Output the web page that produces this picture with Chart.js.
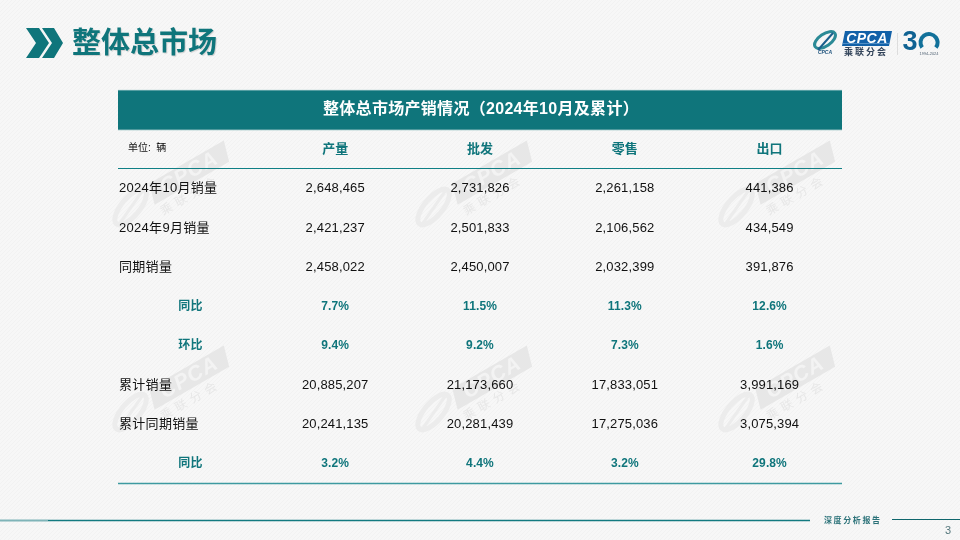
<!DOCTYPE html>
<html lang="zh">
<head>
<meta charset="utf-8">
<title>整体总市场</title>
<script src="https://cdn.jsdelivr.net/npm/chart.js@4/dist/chart.umd.min.js"></script>
<style>
html, body { margin: 0; padding: 0; background: #f6f6f6; overflow: hidden; }
canvas { display: block; }
</style>
</head>
<body>
<canvas id="myChart" width="960" height="540"></canvas>
<script>
const pageTitle = "整体总市场";
const tableTitle = "整体总市场产销情况（2024年10月及累计）";
const unitLabel = "单位:  辆";
const footerText = "深度分析报告";
const pageNumber = "3";

const columns = ["项目", "产量", "批发", "零售", "出口"];
const rowLabels = ["2024年10月销量", "2024年9月销量", "同期销量", "同比", "环比", "累计销量", "累计同期销量", "同比"];
const production = ["2,648,465", "2,421,237", "2,458,022", "7.7%", "9.4%", "20,885,207", "20,241,135", "3.2%"];
const wholesale = ["2,731,826", "2,501,833", "2,450,007", "11.5%", "9.2%", "21,173,660", "20,281,439", "4.4%"];
const retail = ["2,261,158", "2,106,562", "2,032,399", "11.3%", "7.3%", "17,833,051", "17,275,036", "3.2%"];
const exports_ = ["441,386", "434,549", "391,876", "12.6%", "1.6%", "3,991,169", "3,075,394", "29.8%"];

const TEAL = "#0f757b";
const CJK = '"Liberation Sans", "Noto Sans CJK SC", sans-serif';
const rowKeys = ["title", "head"].concat(rowLabels.map((r, i) => "r" + i));
const isRate = i => rowLabels[i] === "同比" || rowLabels[i] === "环比";

// one invisible point per table cell, the text is placed on these points
const cellColumns = [rowLabels, production, wholesale, retail, exports_];
const datasets = cellColumns.map((cells, c) => ({
    label: columns[c],
    showLine: false,
    pointRadius: 0,
    data: cells.map((text, r) => ({ x: columns[c], y: rowKeys[r + 2], text: text, row: r }))
}));
datasets.push({
    label: "header",
    showLine: false,
    pointRadius: 0,
    data: columns.slice(1).map(name => ({ x: name, y: "head", text: name, head: true }))
});

function txt(ctx, s, x, y, font, color, align, spacing) {
    ctx.font = font;
    ctx.fillStyle = color;
    ctx.textAlign = align || "center";
    ctx.textBaseline = "middle";
    ctx.letterSpacing = (spacing || 0) + "px";
    ctx.fillText(s, x, y);
    ctx.letterSpacing = "0px";
}

function poly(ctx, pts, color) {
    ctx.fillStyle = color;
    ctx.beginPath();
    pts.forEach((p, i) => i ? ctx.lineTo(p[0], p[1]) : ctx.moveTo(p[0], p[1]));
    ctx.closePath();
    ctx.fill();
}

function hline(ctx, x0, x1, y, w, color) {
    ctx.strokeStyle = color;
    ctx.lineWidth = w;
    ctx.beginPath();
    ctx.moveTo(x0, y);
    ctx.lineTo(x1, y);
    ctx.stroke();
}

function background(ctx) {
    const tile = document.createElement("canvas");
    tile.width = tile.height = 4;
    const t = tile.getContext("2d");
    t.fillStyle = "#f7f7f7";
    t.fillRect(0, 0, 4, 4);
    t.strokeStyle = "#f2f2f2";
    t.beginPath();
    t.moveTo(-1, 5);
    t.lineTo(5, -1);
    t.stroke();
    ctx.fillStyle = ctx.createPattern(tile, "repeat");
    ctx.fillRect(0, 0, 960, 540);
}

function watermark(ctx, x, y) {
    const gray = "#e7e7e7";
    ctx.save();
    ctx.translate(x, y);
    ctx.rotate(-30 * Math.PI / 180);
    poly(ctx, [[-36, -11], [50, -11], [44, 10], [-42, 10]], gray);
    txt(ctx, "CPCA", 4, 0, 'italic bold 21px "Liberation Sans"', "#f3f3f3", "center", 1);
    txt(ctx, "乘联分会", -6, 19, '12px "Noto Sans CJK SC"', gray, "center", 5);
    ctx.strokeStyle = "#ececec";
    ctx.lineWidth = 5;
    ctx.beginPath();
    ctx.ellipse(-64, 0, 22, 9, -0.35, 0, Math.PI * 2);
    ctx.stroke();
    ctx.lineWidth = 3;
    ctx.beginPath();
    ctx.moveTo(-84, 10);
    ctx.lineTo(-46, -8);
    ctx.stroke();
    ctx.restore();
}

function header(ctx) {
    poly(ctx, [[26, 28], [39, 28], [49, 43], [39, 58], [26, 58], [36, 43]], TEAL);
    poly(ctx, [[42, 28], [54, 28], [63, 43], [54, 58], [42, 58], [52, 43]], TEAL);
    ctx.save();
    ctx.shadowColor = "rgba(0,0,0,0.15)";
    ctx.shadowOffsetX = 1;
    ctx.shadowOffsetY = 1;
    ctx.shadowBlur = 1;
    txt(ctx, pageTitle, 72, 42, 'bold 29px "Noto Sans CJK SC"', TEAL, "left");
    ctx.restore();

    // logo at the top right
    ctx.strokeStyle = "#2b8a96";
    ctx.lineWidth = 3;
    ctx.beginPath();
    ctx.ellipse(825, 40, 12, 6, -0.6, 0, Math.PI * 2);
    ctx.stroke();
    ctx.strokeStyle = "#1a5f8c";
    ctx.lineWidth = 2;
    ctx.beginPath();
    ctx.moveTo(818, 50);
    ctx.lineTo(833, 33);
    ctx.stroke();
    txt(ctx, "CPCA", 825, 52.5, 'italic bold 5px "Liberation Sans"', "#1a4f7a", "center");
    poly(ctx, [[845, 31], [892, 31], [889, 46], [842, 46]], "#1261a8");
    hline(ctx, 843, 890, 43.5, 0.7, "#6da4d2");
    txt(ctx, "CPCA", 867, 39, 'italic bold 14px "Liberation Sans"', "#ffffff", "center", 0.5);
    txt(ctx, "乘联分会", 866, 52, 'bold 9px "Noto Sans CJK SC"', "#33445a", "center", 2);
    ctx.strokeStyle = "#dddddd";
    ctx.lineWidth = 1;
    ctx.beginPath();
    ctx.moveTo(897.5, 33);
    ctx.lineTo(897.5, 55);
    ctx.stroke();
    txt(ctx, "3", 910, 43, 'bold 27px "Liberation Sans"', "#0f6292", "center");
    ctx.strokeStyle = "#12719a";
    ctx.lineWidth = 4;
    ctx.beginPath();
    ctx.arc(929, 42.5, 8.5, Math.PI * 0.8, Math.PI * 2.2);
    ctx.stroke();
    txt(ctx, "1994-2024", 929, 53.5, '4px "Liberation Sans"', "#556677", "center");
}

function footer(ctx) {
    hline(ctx, 0, 48, 520.5, 2, "#7fb4b8");
    hline(ctx, 48, 810, 520.5, 1.5, "#137a80");
    hline(ctx, 892, 960, 519.5, 1, "#0f666c");
    txt(ctx, footerText, 824, 520, 'bold 8px "Noto Sans CJK SC"', "#2a7178", "left", 1.6);
    txt(ctx, pageNumber, 948, 531, '11px "Liberation Sans"', "#55777c", "center");
}

const tablePlugin = {
    id: "tablePlugin",
    beforeDraw(chart) {
        const ctx = chart.ctx;
        const area = chart.chartArea;
        const yScale = chart.scales.y;
        const band = yScale.getPixelForValue(1) - yScale.getPixelForValue(0);
        const titleY = yScale.getPixelForValue(0);
        const headY = yScale.getPixelForValue(1);

        ctx.save();
        background(ctx);
        [175, 380].forEach(y => [186, 489, 792].forEach(x => watermark(ctx, x, y)));
        header(ctx);
        footer(ctx);

        ctx.fillStyle = "#5fa3a7";
        ctx.fillRect(area.left, titleY - band / 2 - 0.5, area.width, band + 1);
        ctx.fillStyle = TEAL;
        ctx.fillRect(area.left, titleY - band / 2 + 0.5, area.width, band - 1);
        hline(ctx, area.left, area.right, Math.round(headY + band / 2) + 0.5 - 1, 1, "#0f7f85");
        hline(ctx, area.left, area.right, area.bottom, 1.5, "#3d9aa0");
        txt(ctx, tableTitle, chart.scales.x.getPixelForValue(2) + 1, titleY, 'bold 16px ' + CJK, "#ffffff", "center", 0.3);
        txt(ctx, unitLabel, area.left + 10, headY - 1.5, '10px ' + CJK, "#111111", "left");
        ctx.restore();
    },
    afterDatasetsDraw(chart) {
        const ctx = chart.ctx;
        const area = chart.chartArea;
        ctx.save();
        chart.data.datasets.forEach((ds, d) => {
            chart.getDatasetMeta(d).data.forEach((pt, i) => {
                const cell = ds.data[i];
                if (cell.head) {
                    txt(ctx, cell.text, pt.x, pt.y, 'bold 13px ' + CJK, TEAL);
                } else if (isRate(cell.row)) {
                    txt(ctx, cell.text, pt.x, pt.y, 'bold 12px ' + CJK, TEAL, "center", 0.1);
                } else if (d === 0) {
                    txt(ctx, cell.text, area.left + 1, pt.y, '13px ' + CJK, "#111111", "left", 0.3);
                } else {
                    txt(ctx, cell.text, pt.x, pt.y, '13px ' + CJK, "#111111", "center", 0.15);
                }
            });
        });
        ctx.restore();
    }
};

const chart = new Chart(document.getElementById("myChart").getContext("2d"), {
    type: "line",
    data: { labels: columns, datasets: datasets },
    plugins: [tablePlugin],
    options: {
        responsive: false,
        animation: false,
        layout: { padding: { left: 118, right: 118, top: 90.4, bottom: 56.6 } },
        plugins: { legend: { display: false }, tooltip: { enabled: false } },
        scales: {
            x: { type: "category", offset: true, labels: columns, display: false },
            y: { type: "category", offset: true, labels: rowKeys, display: false }
        }
    }
});
</script>
</body>
</html>
